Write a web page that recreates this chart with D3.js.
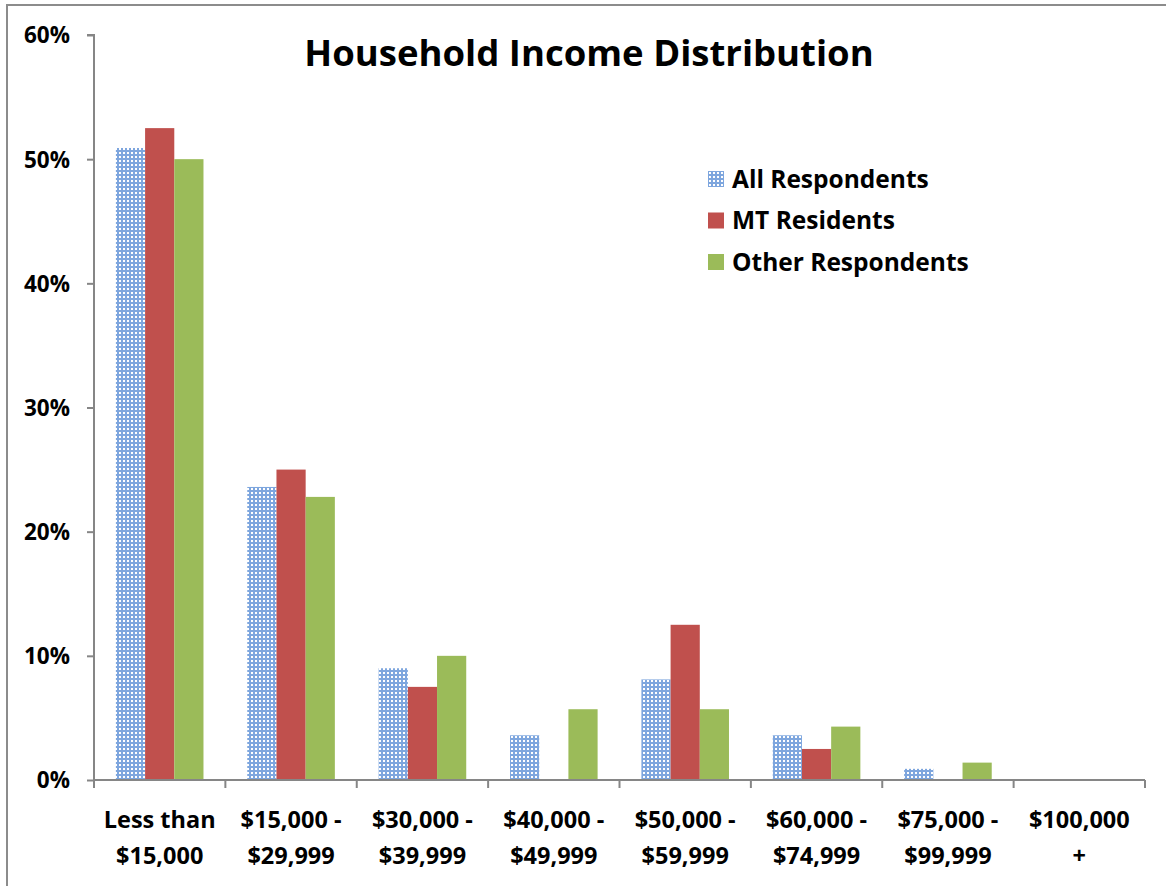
<!DOCTYPE html>
<html>
<head>
<meta charset="utf-8">
<script src="https://cdn.jsdelivr.net/npm/d3@7"></script>
<style>
  body { margin: 0; background: #fff; }
  text { font-family: "Open Sans", Lato, sans-serif; font-weight: bold; fill: #000; }
</style>
</head>
<body>
<div id="chart"></div>
<script>
// chart data
var categories = [
  ["Less than", "$15,000"],
  ["$15,000 -", "$29,999"],
  ["$30,000 -", "$39,999"],
  ["$40,000 -", "$49,999"],
  ["$50,000 -", "$59,999"],
  ["$60,000 -", "$74,999"],
  ["$75,000 -", "$99,999"],
  ["$100,000", "+"]
];
var seriesNames = ["All Respondents", "MT Residents", "Other Respondents"];
var allRespondents = [50.9, 23.6, 9.0, 3.6, 8.1, 3.6, 0.9, 0];
var mtResidents = [52.5, 25.0, 7.5, 0, 12.5, 2.5, 0, 0];
var otherRespondents = [50.0, 22.8, 10.0, 5.7, 5.7, 4.3, 1.4, 0];
var yTicks = [0, 10, 20, 30, 40, 50, 60];

var svgWidth = 1166;
var svgHeight = 886;
var margin = { top: 35, right: 21, bottom: 106, left: 94 };
var width = svgWidth - margin.left - margin.right;
var height = svgHeight - margin.top - margin.bottom;

var svg = d3.select("#chart")
  .append("svg")
  .attr("width", svgWidth)
  .attr("height", svgHeight);

// dotted fill for the first series
var defs = svg.append("defs");
var pat = defs.append("pattern")
  .attr("id", "dots")
  .attr("patternUnits", "userSpaceOnUse")
  .attr("width", 4)
  .attr("height", 4);
pat.append("rect").attr("width", 4).attr("height", 4).attr("fill", "#7ea6de");
pat.append("rect").attr("x", 1).attr("y", 1).attr("width", 2).attr("height", 2).attr("fill", "#ffffff");

var fills = ["url(#dots)", "#c0504d", "#9bbb59"];

// outer chart border
svg.append("rect")
  .attr("x", 7)
  .attr("y", 5)
  .attr("width", svgWidth + 20)
  .attr("height", svgHeight + 20)
  .attr("fill", "none")
  .attr("stroke", "#8c8c8c")
  .attr("stroke-width", 2);

var chartGroup = svg.append("g")
  .attr("transform", `translate(${margin.left}, ${margin.top})`);

var xScale = d3.scaleBand()
  .domain(d3.range(categories.length))
  .range([0, width])
  .paddingInner(0)
  .paddingOuter(0);

// gap between groups is 150% of a bar
var xSub = d3.scaleBand()
  .domain(d3.range(seriesNames.length))
  .range([0, xScale.bandwidth()])
  .paddingInner(0)
  .paddingOuter(0.75);

var yScale = d3.scaleLinear()
  .domain([0, 60])
  .range([height, 0]);

// bars
var series = [allRespondents, mtResidents, otherRespondents];
series.forEach(function(vals, s) {
  chartGroup.selectAll(".bar" + s)
    .data(vals)
    .enter()
    .append("rect")
    .attr("class", "bar" + s)
    .attr("x", (d, i) => xScale(i) + xSub(s))
    .attr("width", xSub.bandwidth())
    .attr("y", d => yScale(d))
    .attr("height", d => height - yScale(d))
    .attr("fill", fills[s]);
});

// y axis
var leftAxis = d3.axisLeft(yScale)
  .tickValues(yTicks)
  .tickFormat(d => d + "%")
  .tickSize(7)
  .tickPadding(17);

var yAxis = chartGroup.append("g").call(leftAxis);
yAxis.selectAll("path, line").attr("stroke", "#868686").attr("stroke-width", 2);
yAxis.select(".domain").attr("d", `M0,${height}V0H-7`);
yAxis.selectAll("text").style("font-size", "22.5px").attr("dy", "0.35em");

// x axis
var bottomAxis = d3.axisBottom(xScale)
  .tickFormat("")
  .tickSize(0);
var xAxis = chartGroup.append("g")
  .attr("transform", `translate(0, ${height})`)
  .call(bottomAxis);
xAxis.select(".domain").attr("d", `M0,0H${width}`).attr("stroke", "#868686").attr("stroke-width", 2);

// tick marks between categories
chartGroup.selectAll(".xtick")
  .data(d3.range(categories.length + 1))
  .enter()
  .append("line")
  .attr("x1", d => d * xScale.step())
  .attr("x2", d => d * xScale.step())
  .attr("y1", height)
  .attr("y2", height + 8)
  .attr("stroke", "#868686")
  .attr("stroke-width", 2);

// category labels
var catLabels = chartGroup.selectAll(".cat")
  .data(categories)
  .enter()
  .append("text")
  .attr("class", "cat")
  .attr("text-anchor", "middle")
  .style("font-size", "23.5px")
  .attr("transform", (d, i) => `translate(${xScale(i) + xScale.bandwidth() / 2}, ${height + 48})`);
catLabels.append("tspan").attr("x", 0).attr("y", 0).text(d => d[0]);
catLabels.append("tspan").attr("x", 0).attr("y", 36).text(d => d[1]);

// title
svg.append("text")
  .attr("x", 589)
  .attr("y", 66)
  .attr("text-anchor", "middle")
  .style("font-size", "36.5px")
  .text("Household Income Distribution");

// legend
var legend = svg.append("g").attr("transform", "translate(708, 171)");
seriesNames.forEach(function(name, i) {
  var row = legend.append("g").attr("transform", `translate(0, ${i * 41.5})`);
  row.append("rect")
    .attr("width", 16)
    .attr("height", 16)
    .attr("fill", fills[i]);
  row.append("text")
    .attr("x", 24)
    .attr("y", 8)
    .attr("dy", "0.35em")
    .style("font-size", "24.5px")
    .text(name);
});
</script>
</body>
</html>
